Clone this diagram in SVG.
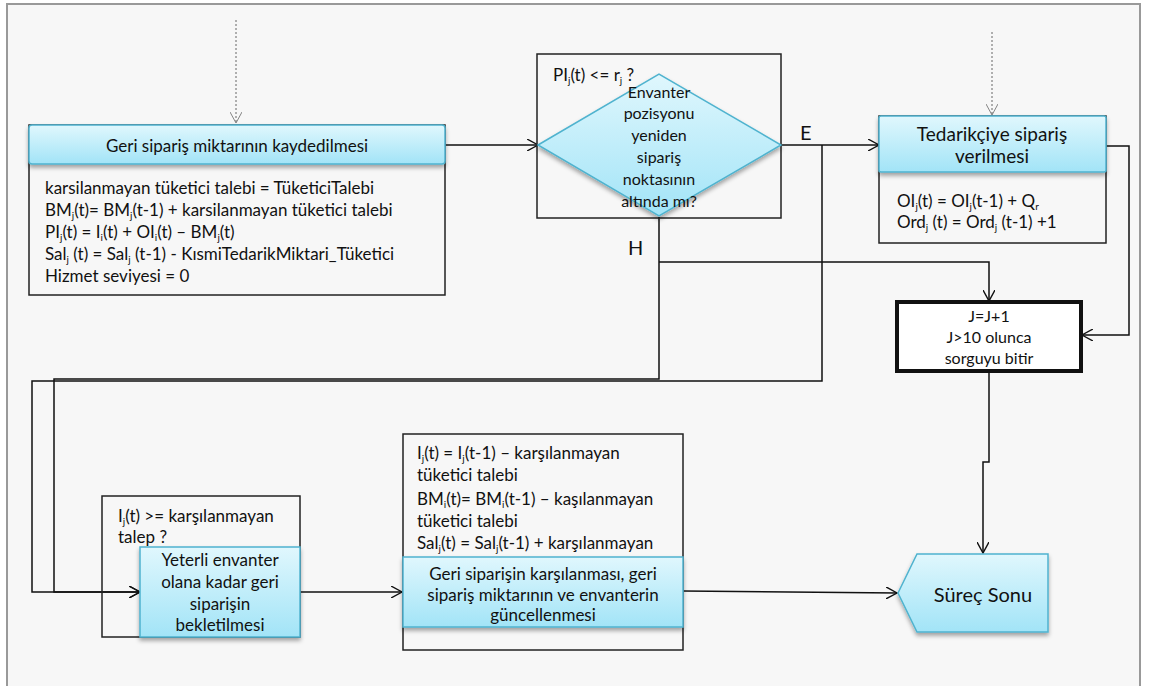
<svg xmlns="http://www.w3.org/2000/svg" width="1149" height="686" viewBox="0 0 1149 686">
  <defs>
    <linearGradient id="cyan" x1="0" y1="0" x2="0" y2="1">
      <stop offset="0" stop-color="#e0f7fd"/>
      <stop offset="1" stop-color="#a2e4f7"/>
    </linearGradient>
    <filter id="shadow" x="-10%" y="-10%" width="120%" height="140%">
      <feDropShadow dx="0" dy="3" stdDeviation="2" flood-color="#000" flood-opacity="0.35"/>
    </filter>
    <marker id="arrow" viewBox="0 0 12 12" refX="11" refY="6" markerWidth="12" markerHeight="12" markerUnits="userSpaceOnUse" orient="auto">
      <path d="M0,0 L11,6 L0,12" fill="none" stroke="#111" stroke-width="1.4"/>
    </marker>
    <marker id="arrow-grey" viewBox="0 0 12 12" refX="11" refY="6" markerWidth="12" markerHeight="12" markerUnits="userSpaceOnUse" orient="auto">
      <path d="M0,0 L11,6 L0,12" fill="none" stroke="#777" stroke-width="0.9"/>
    </marker>
  </defs>
  <style>
    text { font-family: "Lato", "Liberation Sans", sans-serif; font-size: 17px; fill: #111; }
    .dia { font-size: 16px; }
    .cnt { font-size: 16px; }
    .head { font-size: 19px; }
    .lbl { font-size: 20px; }
    .mid { text-anchor: middle; }
    .frame { fill: none; stroke: #222; stroke-width: 1.5; }
    .cyan { fill: url(#cyan); stroke: #4fb3cf; stroke-width: 1.5; filter: url(#shadow); }
    .wire { fill: none; stroke: #111; stroke-width: 1.5; }
    .dots { fill: none; stroke: #666; stroke-width: 1; stroke-dasharray: 2 2; }
    .sub { font-size: 10px; }
  </style>

  <!-- page background and border -->
  <rect x="7" y="4" width="1133" height="682" fill="#f7f7f7"/>
  <path d="M7,686 V4 H1140 V686" fill="none" stroke="#999" stroke-width="2"/>

  <!-- connectors -->
  <g id="connectors">
    <path class="dots" d="M236,20 V123" marker-end="url(#arrow-grey)"/>
    <path class="dots" d="M992,32 V115" marker-end="url(#arrow-grey)"/>
    <path class="wire" d="M445,145 H538" marker-end="url(#arrow)"/>
    <path class="wire" d="M781,145 H879" marker-end="url(#arrow)"/>
    <path class="wire" d="M822,145 V381 H32 V592 H140" marker-end="url(#arrow)"/>
    <path class="wire" d="M659,217 V379 H54 V592 H140" marker-end="url(#arrow)"/>
    <path class="wire" d="M659,262 H989 V301" marker-end="url(#arrow)"/>
    <path class="wire" d="M1106,146 H1129 V335 H1082" marker-end="url(#arrow)"/>
    <path class="wire" d="M989,371 V462 H983 V553" marker-end="url(#arrow)"/>
    <path class="wire" d="M300,592 H402" marker-end="url(#arrow)"/>
    <path class="wire" d="M683,591 L897,593" marker-end="url(#arrow)"/>
    <text class="lbl" x="800" y="140">E</text>
    <text class="lbl" x="628" y="255">H</text>
  </g>

  <!-- back-order recording -->
  <g id="kaydet">
    <rect class="frame" x="29" y="125" width="416" height="170"/>
    <rect class="cyan" x="29" y="125" width="416" height="39" rx="3"/>
    <text class="mid" x="237" y="152">Geri sipariş miktarının kaydedilmesi</text>
    <text x="45" y="194">karsilanmayan tüketici talebi = TüketiciTalebi</text>
    <text x="45" y="216">BM<tspan class="sub" dy="3">j</tspan><tspan dy="-3">(t)= BM</tspan><tspan class="sub" dy="3">j</tspan><tspan dy="-3">(t-1) + karsilanmayan tüketici talebi</tspan></text>
    <text x="45" y="238">PI<tspan class="sub" dy="3">j</tspan><tspan dy="-3">(t) = I</tspan><tspan class="sub" dy="3">i</tspan><tspan dy="-3">(t) + OI</tspan><tspan class="sub" dy="3">i</tspan><tspan dy="-3">(t) – BM</tspan><tspan class="sub" dy="3">j</tspan><tspan dy="-3">(t)</tspan></text>
    <text x="45" y="260">Sal<tspan class="sub" dy="3">j</tspan><tspan dy="-3"> (t) = Sal</tspan><tspan class="sub" dy="3">j</tspan><tspan dy="-3"> (t-1) - KısmiTedarikMiktari_Tüketici</tspan></text>
    <text x="45" y="282">Hizmet seviyesi = 0</text>
  </g>

  <!-- reorder point decision -->
  <g id="karar">
    <rect class="frame" x="537" y="54" width="244" height="164"/>
    <polygon class="cyan" points="538,145 659,74 781,145 659,216" stroke-width="1.2"/>
    <text x="553" y="81">PI<tspan class="sub" dy="3">j</tspan><tspan dy="-3">(t) &lt;= r</tspan><tspan class="sub" dy="3">j</tspan><tspan dy="-3">  ?</tspan></text>
    <text class="dia mid" x="659" y="98">Envanter</text>
    <text class="dia mid" x="659" y="119">pozisyonu</text>
    <text class="dia mid" x="659" y="141">yeniden</text>
    <text class="dia mid" x="659" y="163">sipariş</text>
    <text class="dia mid" x="659" y="185">noktasının</text>
    <text class="dia mid" x="659" y="207">altında mı?</text>
  </g>

  <!-- supplier order -->
  <g id="tedarik">
    <rect class="frame" x="879" y="116" width="227" height="127"/>
    <rect class="cyan" x="879" y="116" width="227" height="56" rx="2"/>
    <text class="head mid" x="992" y="141">Tedarikçiye sipariş</text>
    <text class="head mid" x="992" y="163">verilmesi</text>
    <text x="897" y="207">OI<tspan class="sub" dy="3">j</tspan><tspan dy="-3">(t) = OI</tspan><tspan class="sub" dy="3">j</tspan><tspan dy="-3">(t-1) + Q</tspan><tspan class="sub" dy="3">r</tspan></text>
    <text x="897" y="228">Ord<tspan class="sub" dy="3">j</tspan><tspan dy="-3"> (t) = Ord</tspan><tspan class="sub" dy="3">j</tspan><tspan dy="-3"> (t-1) +1</tspan></text>
  </g>

  <!-- loop counter -->
  <g id="sayac">
    <rect x="897" y="302" width="184" height="69" fill="#fff" stroke="#111" stroke-width="4"/>
    <text class="cnt mid" x="989" y="322">J=J+1</text>
    <text class="cnt mid" x="989" y="343">J&gt;10 olunca</text>
    <text class="cnt mid" x="989" y="364">sorguyu bitir</text>
  </g>

  <!-- waiting for stock -->
  <g id="bekle">
    <rect class="frame" x="102" y="496" width="198" height="141"/>
    <text x="118" y="522">I<tspan class="sub" dy="3">j</tspan><tspan dy="-3">(t) &gt;= karşılanmayan</tspan></text>
    <text x="118" y="543">talep ?</text>
    <rect class="cyan" x="140" y="547" width="160" height="90"/>
    <text class="mid" x="220" y="566">Yeterli envanter</text>
    <text class="mid" x="220" y="588">olana kadar geri</text>
    <text class="mid" x="220" y="610">siparişin</text>
    <text class="mid" x="220" y="631">bekletilmesi</text>
  </g>

  <!-- fulfilment and update -->
  <g id="karsila">
    <rect class="frame" x="403" y="434" width="280" height="216"/>
    <text x="417" y="459">I<tspan class="sub" dy="3">j</tspan><tspan dy="-3">(t) = I</tspan><tspan class="sub" dy="3">j</tspan><tspan dy="-3">(t-1) – karşılanmayan</tspan></text>
    <text x="417" y="481">tüketici talebi</text>
    <text x="417" y="505">BM<tspan class="sub" dy="3">i</tspan><tspan dy="-3">(t)= BM</tspan><tspan class="sub" dy="3">i</tspan><tspan dy="-3">(t-1) – kaşılanmayan</tspan></text>
    <text x="417" y="527">tüketici talebi</text>
    <text x="417" y="549">Sal<tspan class="sub" dy="3">j</tspan><tspan dy="-3">(t) = Sal</tspan><tspan class="sub" dy="3">j</tspan><tspan dy="-3">(t-1) + karşılanmayan</tspan></text>
    <rect class="cyan" x="403" y="557" width="280" height="70"/>
    <text class="mid" x="543" y="580">Geri siparişin karşılanması, geri</text>
    <text class="mid" x="543" y="601">sipariş miktarının ve envanterin</text>
    <text class="mid" x="543" y="621">güncellenmesi</text>
  </g>

  <!-- end of process -->
  <g id="son">
    <polygon class="cyan" points="898,593 917,554 1048,554 1048,632 917,632"/>
    <text class="lbl mid" x="983" y="602">Süreç Sonu</text>
  </g>
</svg>
